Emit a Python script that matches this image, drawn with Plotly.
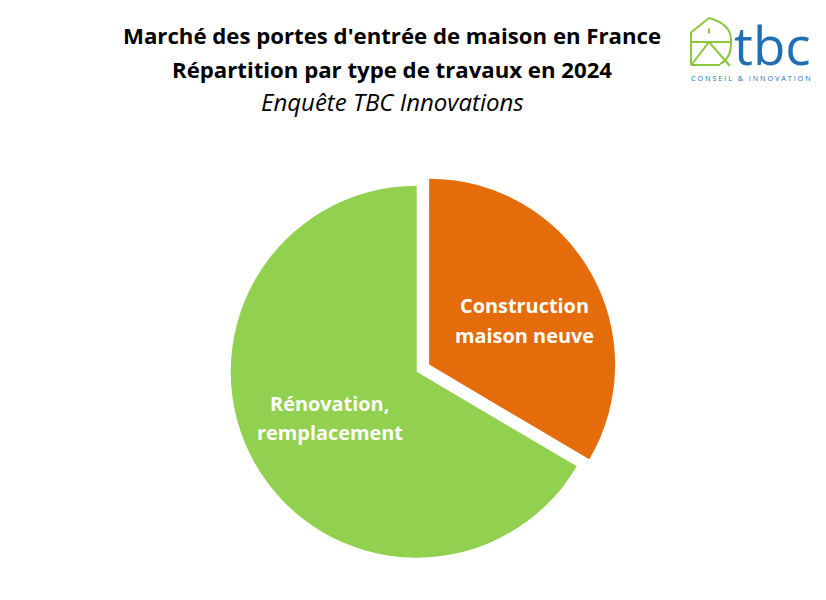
import plotly.graph_objects as go

labels = ["Construction<br>maison neuve", "Rénovation,<br>remplacement"]
values = [33.5, 66.5]
colors = ["#E46C0A", "#92D050"]
pulls = [0.077, 0]

title_lines = ["Marché des portes d'entrée de maison en France",
               "Répartition par type de travaux en 2024"]
subtitle = "Enquête TBC Innovations"
logo_name = "tbc"
logo_tagline = "CONSEIL & INNOVATION"

W, H = 826, 600
OFF = 8  # page body margin
def px(x): return (x - OFF) / W
def py(y): return 1 - (y - OFF) / H

fig = go.Figure(go.Pie(
    labels=labels, values=values, sort=False, direction="clockwise", rotation=0,
    pull=pulls, marker=dict(colors=colors, line=dict(width=0)),
    textinfo="none", hoverinfo="label+percent",
    domain=dict(x=[px(216.4), px(617)], y=[py(572), py(171.4)]),
    showlegend=False,
))

anns = []
font_t = "Open Sans"
anns.append(dict(x=px(392), y=py(36), text="<b>%s</b>" % title_lines[0], font=dict(size=22.2, color="black", family=font_t)))
anns.append(dict(x=px(392), y=py(69), text="<b>%s</b>" % title_lines[1], font=dict(size=22.2, color="black", family=font_t)))
anns.append(dict(x=px(392), y=py(101), text="<i>%s</i>" % subtitle, font=dict(size=24, color="black", family=font_t)))

label_pos = [(524, 306), (329.5, 403)]
for lab, (lx, ly) in zip(labels, label_pos):
    for i, line in enumerate(lab.split("<br>")):
        anns.append(dict(x=px(lx), y=py(ly + 29 * i), text="<b>%s</b>" % line,
                         font=dict(size=19.9, color="white", family=font_t)))

# logo text
anns.append(dict(x=px(772), y=py(45), text=logo_name,
                 font=dict(size=53, color="#1F6FB2", family="Open Sans")))
anns.append(dict(x=px(751), y=py(78), text="&nbsp;".join(logo_tagline).replace("&nbsp; &nbsp;", "&nbsp;&nbsp;&nbsp;"),
                 font=dict(size=7.3, color="#1F6FB2", family="Open Sans")))
for a in anns:
    a.update(xref="paper", yref="paper", showarrow=False, xanchor="center", yanchor="middle")

green = "#8DC63F"
def pt(x, y): return "%f,%f" % (px(x), py(y))
def path(pts):
    return "M " + " L ".join(pt(x, y) for x, y in pts)

lw = 2
shapes = [
    dict(type="path", path=path([(691, 65), (691, 32.5), (709, 18)])),
    dict(type="path", path="M %s Q %s %s" % (pt(709, 18), pt(731, 24), pt(731, 40))),
    dict(type="path", path="M %s Q %s %s" % (pt(731, 40), pt(732, 58), pt(720, 64))),
    dict(type="path", path=path([(691, 65), (720, 65)])),
    dict(type="path", path=path([(691, 42), (731, 42)])),
    dict(type="path", path=path([(709, 28.5), (709, 33.5)])),
    dict(type="path", path=path([(692, 64), (709, 42), (730, 66)])),
]
for s in shapes:
    s.update(xref="paper", yref="paper", line=dict(color=green, width=lw))

fig.update_layout(
    width=W, height=H, margin=dict(l=0, r=0, t=0, b=0),
    paper_bgcolor="white", plot_bgcolor="white",
    annotations=anns, shapes=shapes,
)
fig.write_html("out.html")
